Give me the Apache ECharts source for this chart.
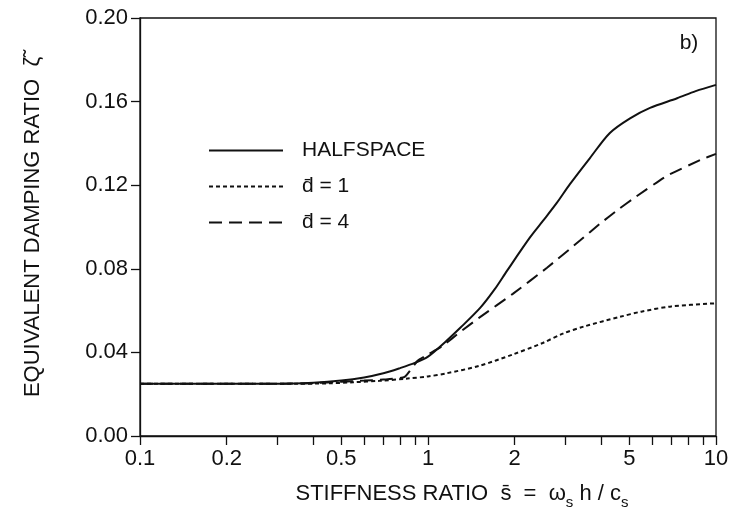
<!DOCTYPE html>
<html>
<head>
<meta charset="utf-8">
<script src="https://cdn.jsdelivr.net/npm/echarts@6/dist/echarts.min.js"></script>
<style>
  html, body { margin: 0; padding: 0; background: #fff; }
  #chart { width: 746px; height: 508px; }
</style>
</head>
<body>
<div id="chart"></div>
<script>
// Stiffness ratio s (log scale) and equivalent damping ratio for each case
const sHalfspace = [0.1, 0.2, 0.3, 0.4, 0.5, 0.6, 0.7, 0.8, 0.9, 1.0, 1.16, 1.3, 1.52, 1.7, 1.88, 2.26, 2.51, 2.8, 3.11, 3.65, 4.28, 5.03, 5.9, 7.33, 8.5, 10];
const vHalfspace = [0.025, 0.025, 0.025, 0.0255, 0.0265, 0.028, 0.030, 0.0325, 0.035, 0.038, 0.0456, 0.052, 0.0614, 0.070, 0.079, 0.095, 0.103, 0.1115, 0.1205, 0.133, 0.145, 0.152, 0.157, 0.1616, 0.165, 0.168];

const sD1 = [0.1, 0.2, 0.35, 0.45, 0.55, 0.68, 0.85, 1.0, 1.16, 1.5, 1.97, 2.5, 2.94, 3.5, 4.64, 5.5, 7.0, 10];
const vD1 = [0.025, 0.025, 0.025, 0.0252, 0.0257, 0.0264, 0.0275, 0.0285, 0.030, 0.0335, 0.039, 0.0445, 0.049, 0.0525, 0.057, 0.0595, 0.062, 0.0635];

const sD4 = [0.1, 0.2, 0.3, 0.4, 0.5, 0.6, 0.7, 0.83, 0.92, 1.0, 1.12, 1.3, 1.52, 1.97, 2.59, 3.37, 3.95, 4.64, 5.15, 6.76, 8.8, 10];
const vD4 = [0.025, 0.025, 0.025, 0.0253, 0.026, 0.0265, 0.027, 0.0283, 0.036, 0.039, 0.043, 0.050, 0.057, 0.068, 0.0805, 0.0935, 0.1015, 0.109, 0.1135, 0.1245, 0.132, 0.135];

const xTickValues = [0.1, 0.2, 0.3, 0.4, 0.5, 0.6, 0.7, 0.8, 0.9, 1, 2, 3, 4, 5, 6, 7, 8, 9, 10];
const xLabelValues = [0.1, 0.2, 0.5, 1, 2, 5, 10];

const seriesNames = ['HALFSPACE', 'd\u0304 = 1', 'd\u0304 = 4'];

const pairs = (xs, ys) => xs.map((x, i) => [x, ys[i]]);

const FONT = 'Liberation Sans, Arial, Helvetica, sans-serif';
const INK = '#111';

const chart = echarts.init(document.getElementById('chart'));
chart.setOption({
  animation: false,
  backgroundColor: '#fff',
  grid: {
    left: 140, right: 30, top: 18, bottom: 72,
    show: true, borderColor: INK, borderWidth: 1.3
  },
  legend: {
    orient: 'vertical',
    left: 203, top: 135,
    itemWidth: 74, itemHeight: 20, itemGap: 15,
    itemStyle: { opacity: 0 },
    textStyle: { fontFamily: FONT, fontSize: 21, color: INK, padding: [0, 0, 0, 14] },
    data: seriesNames
  },
  xAxis: {
    type: 'log', logBase: 10, min: 0.1, max: 10,
    axisLine: { lineStyle: { color: INK, width: 1.3 } },
    axisTick: { show: true, inside: false, length: 9, lineStyle: { color: INK, width: 1.3 }, customValues: xTickValues },
    minorTick: { show: false },
    splitLine: { show: false },
    axisLabel: {
      customValues: xLabelValues,
      fontFamily: FONT, fontSize: 22, color: INK, margin: 12,
      formatter: v => String(parseFloat(Number(v).toPrecision(3)))
    }
  },
  yAxis: {
    type: 'value', min: 0, max: 0.2, interval: 0.04,
    name: 'EQUIVALENT DAMPING RATIO  \u03b6\u0303',
    nameLocation: 'middle', nameGap: 96, nameRotate: 90,
    nameTextStyle: { fontFamily: FONT, fontSize: 22, color: INK },
    axisLine: { show: true, lineStyle: { color: INK, width: 1.3 } },
    axisTick: { show: true, inside: false, length: 9, lineStyle: { color: INK, width: 1.3 } },
    splitLine: { show: false },
    axisLabel: {
      fontFamily: FONT, fontSize: 22, color: INK, margin: 12,
      formatter: v => v.toFixed(2)
    }
  },
  graphic: [
    {
      type: 'text', x: 689, y: 43,
      style: { text: 'b)', font: '21px ' + FONT, fill: INK, align: 'center', verticalAlign: 'middle' }
    },
    {
      type: 'text', x: 462, y: 492,
      style: {
        align: 'center', verticalAlign: 'middle',
        text: '{t|STIFFNESS RATIO  s\u0304  =  \u03c9}{sub|s}{t| h / c}{sub|s}',
        rich: {
          t: { fontFamily: FONT, fontSize: 22, fill: INK, verticalAlign: 'bottom', lineHeight: 26 },
          sub: { fontFamily: FONT, fontSize: 15, fill: INK, verticalAlign: 'bottom', lineHeight: 20, padding: [0, 0, -5, 0] }
        }
      }
    }
  ],
  series: [
    {
      name: seriesNames[0], type: 'line', data: pairs(sHalfspace, vHalfspace),
      showSymbol: false, symbol: 'none', smooth: 0.3,
      lineStyle: { color: INK, width: 2, type: 'solid' }, itemStyle: { color: INK }
    },
    {
      name: seriesNames[1], type: 'line', data: pairs(sD1, vD1),
      showSymbol: false, symbol: 'none', smooth: 0.3,
      lineStyle: { color: INK, width: 2, type: [4, 3] }, itemStyle: { color: INK }
    },
    {
      name: seriesNames[2], type: 'line', data: pairs(sD4, vD4),
      showSymbol: false, symbol: 'none', smooth: 0.15,
      lineStyle: { color: INK, width: 2, type: [13, 7] }, itemStyle: { color: INK }
    }
  ]
});
</script>
</body>
</html>
